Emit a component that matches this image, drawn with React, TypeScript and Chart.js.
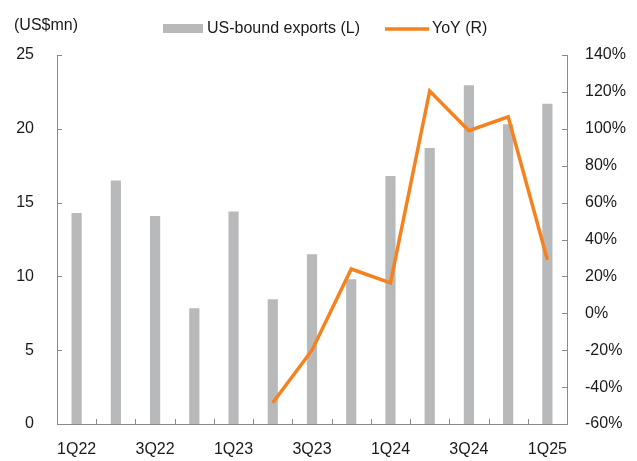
import React, { useEffect, useRef } from 'react';
import { Chart, registerables } from 'chart.js';

Chart.register(...registerables);

const categories = ['1Q22', '2Q22', '3Q22', '4Q22', '1Q23', '2Q23', '3Q23', '4Q23', '1Q24', '2Q24', '3Q24', '4Q24', '1Q25'];
const shownLabels = ['1Q22', '3Q22', '1Q23', '3Q23', '1Q24', '3Q24', '1Q25'];
const exportsValues = [14.3, 16.5, 14.1, 7.85, 14.4, 8.45, 11.5, 9.8, 16.8, 18.7, 22.95, 20.3, 21.7];
const yoyValues: (number | null)[] = [null, null, null, null, null, -48.5, -20, 24, 16.5, 120.5, 99, 106.5, 29];
const leftAxis = { min: 0, max: 25, step: 5 };
const rightAxis = { min: -60, max: 140, step: 20 };
const unitLabel = '(US$mn)';
const seriesNames = ['US-bound exports (L)', 'YoY (R)'];

const FONT = "'Liberation Sans', Arial, Helvetica, sans-serif";
const TEXT = '#1a1a1a';
const AXIS = '#8a8a8a';
const BAR = '#b8b9bb';
const LINE = '#f5821f';

const decor = {
  id: 'decor',
  afterDraw(chart: any) {
    const ctx = chart.ctx as CanvasRenderingContext2D;
    const { left, right, bottom } = chart.chartArea;
    const xs = chart.scales.x;
    const ys = chart.scales.y;
    const ys1 = chart.scales.y1;
    ctx.save();
    ctx.strokeStyle = AXIS;
    ctx.lineWidth = 1;
    ctx.beginPath();
    ys.ticks.forEach((t: any) => {
      const py = Math.round(ys.getPixelForValue(t.value)) + 0.5;
      ctx.moveTo(left, py);
      ctx.lineTo(left + 5, py);
    });
    ys1.ticks.forEach((t: any) => {
      const py = Math.round(ys1.getPixelForValue(t.value)) + 0.5;
      ctx.moveTo(right, py);
      ctx.lineTo(right - 5, py);
    });
    for (let i = 1; i < categories.length; i++) {
      const px = Math.round((xs.getPixelForValue(i - 1) + xs.getPixelForValue(i)) / 2) + 0.5;
      ctx.moveTo(px, bottom);
      ctx.lineTo(px, bottom - 5);
    }
    ctx.stroke();

    // unit label
    ctx.fillStyle = TEXT;
    ctx.font = `16px ${FONT}`;
    ctx.textBaseline = 'middle';
    ctx.textAlign = 'left';
    ctx.fillText(unitLabel, 14, 26);

    // legend
    const ds = chart.data.datasets;
    ctx.fillStyle = BAR;
    ctx.fillRect(163, 24, 40, 9);
    ctx.fillStyle = TEXT;
    ctx.fillText(ds[0].label, 207, 29);
    ctx.strokeStyle = LINE;
    ctx.lineWidth = 3.5;
    ctx.beginPath();
    ctx.moveTo(385, 29);
    ctx.lineTo(429, 29);
    ctx.stroke();
    ctx.fillStyle = TEXT;
    ctx.fillText(ds[1].label, 432, 29);
    ctx.restore();
  },
};

export default function App() {
  const ref = useRef<HTMLCanvasElement>(null);

  useEffect(() => {
    if (!ref.current) return;
    Chart.defaults.font.family = FONT;
    Chart.defaults.font.size = 16;
    Chart.defaults.color = TEXT;
    const chart = new Chart(ref.current, {
      type: 'bar',
      data: {
        labels: categories,
        datasets: [
          {
            type: 'bar',
            label: seriesNames[0],
            data: exportsValues,
            backgroundColor: BAR,
            borderWidth: 0,
            barPercentage: 0.26,
            categoryPercentage: 1,
            yAxisID: 'y',
            order: 2,
          },
          {
            type: 'line',
            label: seriesNames[1],
            data: yoyValues,
            borderColor: LINE,
            backgroundColor: LINE,
            borderWidth: 3.5,
            pointRadius: 0,
            tension: 0,
            spanGaps: false,
            yAxisID: 'y1',
            order: 1,
          } as any,
        ],
      },
      options: {
        animation: false,
        responsive: true,
        maintainAspectRatio: false,
        layout: { padding: { top: 55, left: 0, right: 0, bottom: 0 } },
        plugins: {
          legend: { display: false },
          tooltip: { enabled: false },
          title: { display: false },
        },
        scales: {
          x: {
            offset: true,
            grid: { display: false, drawTicks: false },
            border: { display: true, color: AXIS, width: 1 },
            ticks: {
              autoSkip: false,
              maxRotation: 0,
              padding: 16,
              color: TEXT,
              font: { size: 16 },
              callback: (_v: any, i: number) => (shownLabels.includes(categories[i]) ? categories[i] : ''),
            },
            afterFit: (s: any) => {
              s.height = 37;
            },
          },
          y: {
            position: 'left',
            min: leftAxis.min,
            max: leftAxis.max,
            grid: { display: false, drawTicks: false },
            border: { display: true, color: AXIS, width: 1 },
            ticks: { stepSize: leftAxis.step, padding: 23, color: TEXT, font: { size: 16 } },
            afterFit: (s: any) => {
              s.width = 57;
            },
          },
          y1: {
            position: 'right',
            min: rightAxis.min,
            max: rightAxis.max,
            grid: { display: false, drawTicks: false },
            border: { display: true, color: AXIS, width: 1 },
            ticks: {
              stepSize: rightAxis.step,
              padding: 18,
              color: TEXT,
              font: { size: 16 },
              callback: (v: any) => `${v}%`,
            },
            afterFit: (s: any) => {
              s.width = 70;
            },
          },
        },
      },
      plugins: [decor],
    });
    return () => chart.destroy();
  }, []);

  return (
    <div style={{ position: 'fixed', left: 0, top: 0, width: 637, height: 461, background: '#fff' }}>
      <canvas ref={ref} />
    </div>
  );
}
